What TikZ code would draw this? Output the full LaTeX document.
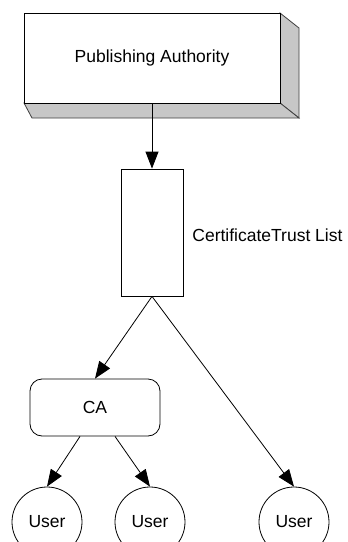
\documentclass[tikz,border=0pt]{standalone}
\usepackage{fontspec}
\setmainfont{Liberation Sans}
\usetikzlibrary{arrows.meta}
\begin{document}
\begin{tikzpicture}[x=1pt,y=-1pt,line width=0.8pt,
  arr/.style={-{Triangle[length=17pt,width=13pt]}},
  lbl/.style={font=\fontsize{17.5}{20}\selectfont},
  side/.style={fill=black!22,draw=black!75,line width=0.8pt},
  userc/.style={draw,circle,minimum size=70pt,inner sep=0pt,lbl}]
\useasboundingbox (0,0) rectangle (348,542);
\clip (0,0) rectangle (348,542);
% 3D box for Publishing Authority
\filldraw[side] (280,13) -- (299,28) -- (299,118) -- (280,103) -- cycle;
\filldraw[side] (24,103) -- (280,103) -- (299,118) -- (32,118) -- cycle;
\node[draw,fill=white,minimum width=256pt,minimum height=90pt,inner sep=0pt,lbl] (pa) at (152,58) {Publishing Authority};
% Certificate Trust List
\node[draw,minimum width=62pt,minimum height=127pt,inner sep=0pt] (ctl) at (152,232.5) {};
\node[lbl,anchor=west,inner sep=0pt] (ctllbl) at (192,235) {CertificateTrust List};
% CA
\node[draw,rounded corners=12pt,minimum width=130pt,minimum height=57pt,inner sep=0pt,lbl] (ca) at (95,407.5) {CA};
% Users
\node[userc] (u1) at (47,522) {User};
\node[userc] (u2) at (150,522) {User};
\node[userc] (u3) at (294,522) {User};
% connectors
\draw[arr] (pa.south) -- (ctl.north);
\draw[arr] (ctl.south) -- (ca.north);
\draw[arr] (ctl.south) -- (u3.north);
\draw[arr] ([xshift=-15pt]ca.south) -- (u1.north);
\draw[arr] ([xshift=20pt]ca.south) -- (u2.north);
\end{tikzpicture}
\end{document}
